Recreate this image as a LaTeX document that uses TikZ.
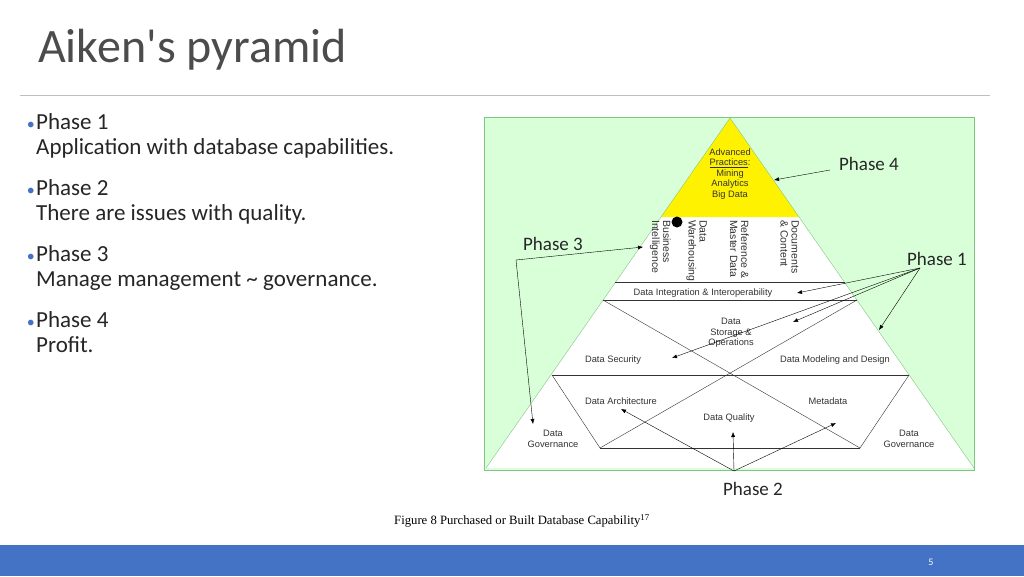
\documentclass[tikz,border=0pt]{standalone}
\usepackage{fontspec}
\setmainfont{Carlito}
\newfontfamily\arialfont{Liberation Sans}
\newfontfamily\timesfont{Liberation Serif}
\usetikzlibrary{arrows.meta}
\tikzset{>=Latex}
\colorlet{bgreen}{green!15!white}
\colorlet{lgreen}{green!55!black!50!white}
\definecolor{barblue}{RGB}{68,114,196}
\tikzstyle{ptext}=[font=\arialfont\fontsize{9.3}{10.5}\selectfont,text=black!80,align=center,inner sep=1pt]
\tikzstyle{vtext}=[ptext,font=\arialfont\fontsize{10.5}{11}\selectfont,rotate=-90,align=left]
\tikzstyle{phase}=[font=\fontsize{19}{20}\selectfont,text=black!85,inner sep=1pt]
\tikzstyle{pline}=[thin,black!80]
\tikzstyle{arw}=[->,thin,>={Latex[length=5pt,width=4pt]}]

\begin{document}
\begin{tikzpicture}[x=1pt,y=-1pt]
  \useasboundingbox (0,0) rectangle (1024,576);
  \fill[white] (0,0) rectangle (1024,576);

  % SLIDE
  \node[anchor=base west,font=\fontsize{48}{52}\selectfont,text=black!70,inner sep=0] (title) at (38,62) {Aiken\textquotesingle s pyramid};
  \draw[black!25] (20,95) -- (990,95);
  \foreach \y/\a/\b [count=\i] in {129/Phase 1/Application with database capabilities.,
      195/Phase 2/There are issues with quality.,
      261/Phase 3/Manage management \textasciitilde{} governance.,
      327/Phase 4/Profit.} {
    \node[anchor=base west,font=\fontsize{23}{25}\selectfont,inner sep=0,text=black!85] (b\i) at (36,\y) {\a};
    \node[anchor=base east,text=barblue,inner sep=0,font=\fontsize{16}{16}\selectfont] at ([xshift=-1pt]b\i.base west) {\textbullet};
    \node[anchor=base west,font=\fontsize{23}{25}\selectfont,inner sep=0,text=black!85] at (36,\y+25) {\b};
  }
  \fill[barblue] (0,545) rectangle (1024,576);
  \node[text=white,font=\fontsize{10}{10}\selectfont] (page) at (931,562) {5};
  \node[font=\timesfont\fontsize{12.7}{13}\selectfont] (caption) at (522,521)
    {Figure 8 Purchased or Built Database Capability\textsuperscript{17}};

  % PYRAMID
  \fill[bgreen] (484,117) rectangle (974,470);
  \draw[lgreen] (484,117) rectangle (974,470);
  \coordinate (top) at (730,118);
  \coordinate (bl) at (486,468);
  \coordinate (br) at (974,468);
  \fill[white] (top) -- (bl) -- (br) -- cycle;
  \fill[yellow] (top) -- (661,217) -- (799,217) -- cycle;
  \draw[lgreen] (bl) -- (top) -- (br);
  \draw[pline] (615,282) -- (845,282);
  \draw[pline] (603,300) -- (857,300);
  \draw[pline] (552,375) -- (909,375);
  \draw[pline] (600,448) -- (860,448);
  \draw[pline] (603,300) -- (860,448) -- (909,375);
  \draw[pline] (857,300) -- (600,448) -- (552,375);

  \node[ptext] (adv) at (730,174) {Advanced\\\underline{Practices}:\\Mining\\Analytics\\Big Data};
  \node[vtext,anchor=north west] (bi) at (672,219) {Business\\Intelligence};
  \fill (677,222) circle (5.5);
  \node[vtext,anchor=north west] (dw) at (708,219) {Data\\Warehousing};
  \node[vtext,anchor=north west] (rm) at (750,219) {Reference \&\\Master Data};
  \node[vtext,anchor=north west] (dc) at (800,219) {Documents\\\& Content};
  \node[ptext] (dii) at (703,293) {Data Integration \& Interoperability};
  \node[ptext] (dso) at (731,333) {Data\\Storage \&\\Operations};
  \node[ptext] (dsec) at (613,360) {Data Security};
  \node[ptext] (dmd) at (835,360) {Data Modeling and Design};
  \node[ptext] (darch) at (621,401) {Data Architecture};
  \node[ptext] (meta) at (828,401) {Metadata};
  \node[ptext] (dq) at (729,418) {Data Quality};
  \node[ptext] (dgl) at (553,439) {Data\\Governance};
  \node[ptext] (dgr) at (909,439) {Data\\Governance};

  % PHASES
  \node[phase] (p4) at (869,164) {Phase 4};
  \node[phase] (p3) at (553,244) {Phase 3};
  \node[phase] (p1) at (937,259) {Phase 1};
  \node[phase] (p2) at (753,489) {Phase 2};
  \coordinate (p3o) at (516,260);
  \coordinate (p1o) at (920,268);
  \coordinate (p2o) at (734,471);
  \draw[arw] (830,170) -- (774,180);
  \draw[arw] (p3o) -- (643,247);
  \draw[arw] (p3o) -- (533,424);
  \foreach \t in {{(797,293)},{(793,322)},{(672,358)},{(879,330)}}
    \draw[arw] (p1o) -- \t;
  \foreach \t in {{(621,409)},{(733,432)},{(836,423)}}
    \draw[arw] (p2o) -- \t;
\end{tikzpicture}
\end{document}
